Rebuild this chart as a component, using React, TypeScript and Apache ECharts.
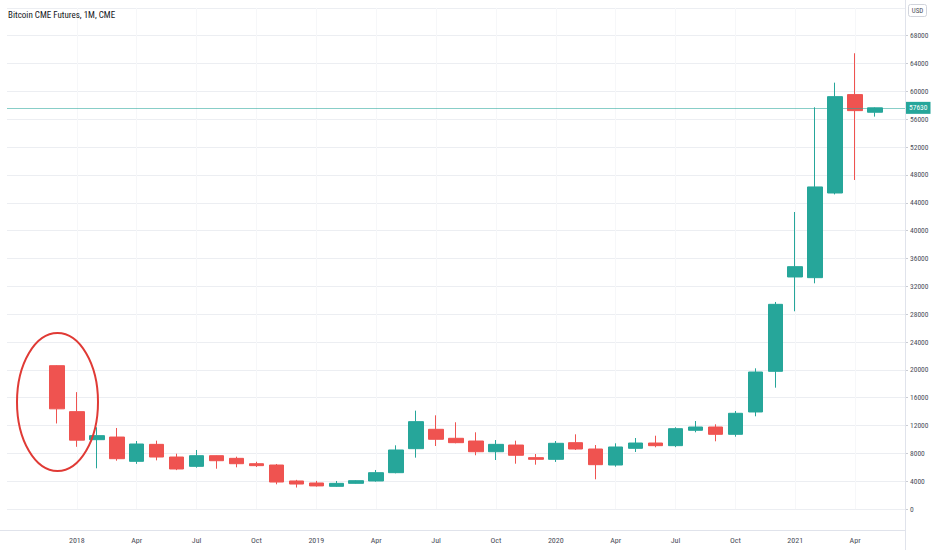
import React, { useEffect, useRef } from "react";
import * as echarts from "echarts";

// Months shown on the category axis (Oct 2017 .. Jun 2021); empty slots at both ends
const months = [
  "2017-10", "2017-11", "2017-12",
  "2018-01", "2018-02", "2018-03", "2018-04", "2018-05", "2018-06",
  "2018-07", "2018-08", "2018-09", "2018-10", "2018-11", "2018-12",
  "2019-01", "2019-02", "2019-03", "2019-04", "2019-05", "2019-06",
  "2019-07", "2019-08", "2019-09", "2019-10", "2019-11", "2019-12",
  "2020-01", "2020-02", "2020-03", "2020-04", "2020-05", "2020-06",
  "2020-07", "2020-08", "2020-09", "2020-10", "2020-11", "2020-12",
  "2021-01", "2021-02", "2021-03", "2021-04", "2021-05", "2021-06",
];

// Monthly candles Dec 2017 .. May 2021
const candleMonths = months.slice(2, 44);
const opens = [
  20600, 14000, 9970, 10350, 6860, 9300, 7480, 6140, 7670, 7290, 6520, 6330, 4040,
  3750, 3270, 3700, 4040, 5230, 8680, 11460, 10170, 9780, 8240, 9200, 7390,
  7150, 9540, 8630, 6330, 8730, 9490, 9110, 11320, 11790, 10740, 13950, 19790,
  33340, 33240, 45400, 59530, 57000,
];
const closes = [
  14400, 9900, 10550, 7240, 9350, 7480, 5760, 7670, 6950, 6520, 6240, 3890, 3600,
  3330, 3700, 4080, 5230, 8490, 12560, 10030, 9540, 8240, 9300, 7730, 7150,
  9450, 8630, 6380, 8920, 9490, 9110, 11550, 11790, 10740, 13760, 19690, 29410,
  34820, 46270, 59240, 57230, 57630,
];
const lows = [
  12300, 8950, 5860, 6950, 6500, 7000, 5600, 5950, 5800, 6000, 6050, 3560, 3100,
  3230, 3200, 3650, 3950, 5140, 7390, 9060, 9450, 7730, 7050, 6520, 6380,
  6770, 8490, 4280, 6090, 8200, 8880, 8900, 11030, 9740, 10400, 13330, 17440,
  28410, 32430, 45200, 47270, 56370,
];
const highs = [
  20650, 16800, 11750, 11650, 9780, 9830, 7960, 8490, 7700, 7530, 6800, 6480, 4200,
  4050, 4040, 4150, 5620, 9160, 14140, 13470, 12470, 11030, 9920, 9830, 7910,
  9780, 10740, 9200, 9450, 10210, 10540, 11750, 12650, 12180, 14090, 20220, 29750,
  42670, 57710, 61250, 65470, 57700,
];
const lastPrice = 57630;

// Time-axis labels
const tickMonths = [
  "2018-01", "2018-04", "2018-07", "2018-10",
  "2019-01", "2019-04", "2019-07", "2019-10",
  "2020-01", "2020-04", "2020-07", "2020-10",
  "2021-01", "2021-04",
];
const monthNames: Record<string, string> = { "04": "Apr", "07": "Jul", "10": "Oct" };

const title = "Bitcoin CME Futures, 1M, CME";
const currency = "USD";

const UP = "#26a69a";
const DOWN = "#ef5350";
const FONT = "'Liberation Sans Narrow', 'Roboto Condensed', 'Liberation Sans', sans-serif";

export default function App() {
  const ref = useRef<HTMLDivElement>(null);

  useEffect(() => {
    document.body.style.margin = "0";
    if (!ref.current) return;
    const chart = echarts.init(ref.current, undefined, { renderer: "svg" });

    const data = months.map((m) => {
      const i = candleMonths.indexOf(m);
      if (i < 0) return "-";
      return [opens[i], closes[i], lows[i], highs[i]];
    });

    const isTick = (idx: number) => tickMonths.indexOf(months[idx]) >= 0;

    chart.setOption({
      animation: false,
      backgroundColor: "#ffffff",
      textStyle: { fontFamily: FONT },
      title: {
        text: title,
        left: 3,
        top: 5,
        textStyle: { fontSize: 9, fontWeight: "normal", color: "#131722", fontFamily: FONT },
      },
      grid: { left: 7, right: 27, top: 7.8, bottom: 40.9 },
      xAxis: {
        type: "category",
        data: months,
        boundaryGap: true,
        axisLine: { show: false },
        axisTick: { show: false },
        axisLabel: {
          interval: (idx: number) => isTick(idx),
          formatter: (v: string) => {
            const [y, mm] = v.split("-");
            return mm === "01" ? y : monthNames[mm];
          },
          margin: 27,
          fontSize: 8,
          color: "#4a4e59",
          fontFamily: FONT,
        },
        splitLine: {
          show: true,
          alignWithLabel: true,
          interval: (idx: number) => isTick(idx),
          lineStyle: { color: "#f6f7f9", width: 1 },
        },
      },
      yAxis: {
        type: "value",
        position: "right",
        min: 0,
        max: 72000,
        interval: 4000,
        scale: false,
        axisLine: { show: false },
        axisTick: { show: true, length: 3, lineStyle: { color: "#c9ccd3" } },
        axisLabel: {
          showMaxLabel: false,
          formatter: (v: number) => String(v),
          margin: 5,
          fontSize: 7.5,
          color: "#4a4e59",
          fontFamily: FONT,
        },
        splitLine: { show: true, lineStyle: { color: "#eceef2", width: 1 } },
      },
      series: [
        {
          type: "candlestick",
          data,
          barWidth: 15,
          itemStyle: {
            color: UP,
            color0: DOWN,
            borderColor: UP,
            borderColor0: DOWN,
            borderWidth: 1,
          },
          markLine: {
            symbol: "none",
            silent: true,
            lineStyle: { color: "rgba(38,166,154,0.55)", type: "solid", width: 1 },
            label: {
              show: true,
              position: "end",
              distance: 1,
              formatter: () => String(lastPrice),
              backgroundColor: UP,
              color: "#ffffff",
              fontSize: 7.5,
              fontFamily: FONT,
              padding: [2, 3, 2, 3],
              opacity: 1,
            },
            data: [{ yAxis: lastPrice }],
          },
        },
      ],
      graphic: [
        // price-scale border and time-scale border
        { type: "line", shape: { x1: 905.5, y1: 0, x2: 905.5, y2: 550 }, style: { stroke: "#e0e3eb", lineWidth: 1 }, z: 10 },
        { type: "line", shape: { x1: 0, y1: 530.5, x2: 905, y2: 530.5 }, style: { stroke: "#e0e3eb", lineWidth: 1 }, z: 10 },
        // currency box
        { type: "rect", shape: { x: 908.5, y: 4.5, width: 18, height: 12, r: 2 }, style: { fill: "#ffffff", stroke: "#d1d4dc", lineWidth: 1 }, z: 11 },
        { type: "text", x: 917.5, y: 10.5, style: { text: currency, fontSize: 7, fill: "#4a4e59", align: "center", verticalAlign: "middle", fontFamily: FONT }, z: 12 },
        // red annotation ellipse
        { type: "ellipse", shape: { cx: 57.5, cy: 402, rx: 40.5, ry: 69 }, style: { fill: "none", stroke: "#e03a35", lineWidth: 2 }, z: 20 },
      ],
    });

    return () => chart.dispose();
  }, []);

  return (
    <div
      ref={ref}
      style={{ position: "fixed", left: 0, top: 0, width: 932, height: 550 }}
    />
  );
}
